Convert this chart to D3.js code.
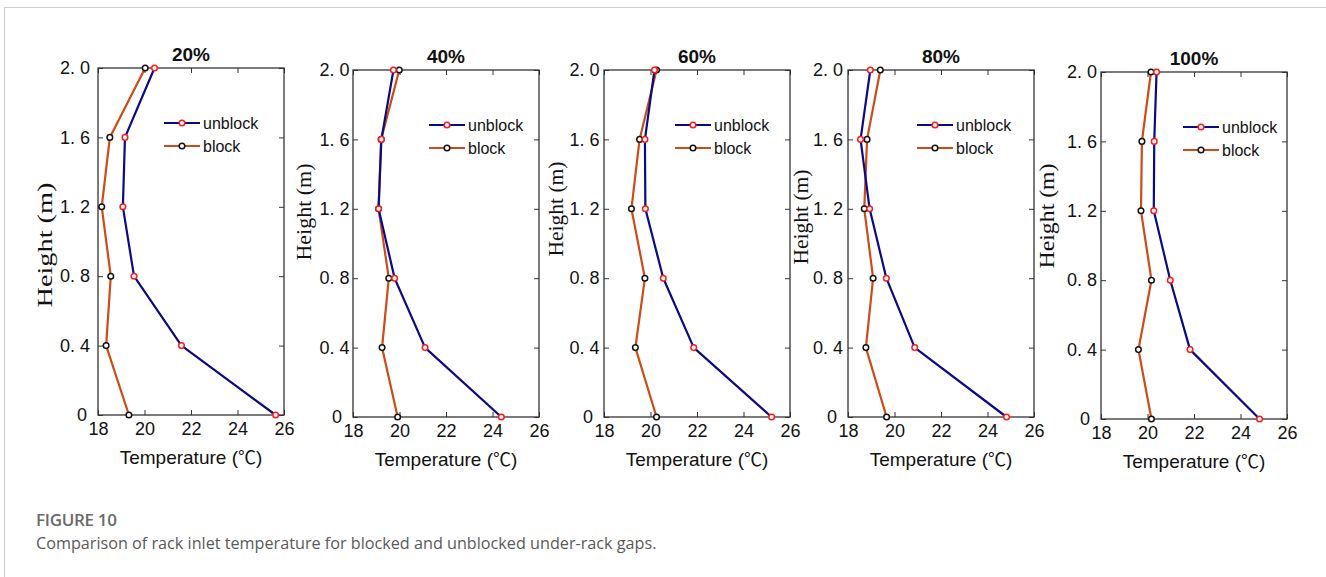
<!DOCTYPE html>
<html>
<head>
<meta charset="utf-8">
<script src="https://cdn.jsdelivr.net/npm/d3@7"></script>
<style>
  body { margin: 0; background: #fff; }
  svg { display: block; }
</style>
</head>
<body>
<script>
const W = 1326
const H = 577

// data
const panelTitles = ["20%", "40%", "60%", "80%", "100%"]
const heights = [0, 0.4, 0.8, 1.2, 1.6, 2.0]
const heightLabels = ["0", "0. 4", "0. 8", "1. 2", "1. 6", "2. 0"]
const tempTicks = [18, 20, 22, 24, 26]
const seriesNames = ["unblock", "block"]

// temperatures from h=0 up to h=2.0
const unblock20 = [25.64, 21.59, 19.55, 19.07, 19.16, 20.43]
const block20 = [19.33, 18.35, 18.55, 18.16, 18.51, 20.03]
const unblock40 = [24.38, 21.10, 19.79, 19.10, 19.22, 19.74]
const block40 = [19.92, 19.25, 19.54, 19.10, 19.21, 19.99]
const unblock60 = [25.21, 21.86, 20.55, 19.78, 19.76, 20.17]
const block60 = [20.26, 19.35, 19.76, 19.18, 19.53, 20.26]
const unblock80 = [24.82, 20.87, 19.65, 18.93, 18.54, 18.96]
const block80 = [19.66, 18.77, 19.08, 18.70, 18.82, 19.39]
const unblock100 = [24.82, 21.83, 20.98, 20.27, 20.29, 20.39]
const block100 = [20.17, 19.61, 20.17, 19.72, 19.76, 20.15]

const unblockSets = [unblock20, unblock40, unblock60, unblock80, unblock100]
const blockSets = [block20, block40, block60, block80, block100]

// layout (pixels), each panel was pasted in at a slightly different spot
const panelLeft = [98, 353, 604, 848, 1101]
const panelTop = [68, 70, 70, 70, 72]
const tickPad = [8, 3.5, 4.5, 5, 4]
const legendRight = [120, 110, 115, 117, 104]
const ylabX = [52, 311, 563, 808, 1054]
const ylabY = [245, 212, 209, 217, 216]
const ylabLen = [125, 97, 95, 95, 105]
const ylabSize = [22, 20, 20, 20, 21]
const pw = 186
const ph = 347

const lineColors = ["#0a0a86", "#cc4b16"]
const markColors = ["#ff1a1a", "#111"]
const tickFont = "Arial, 'Liberation Sans', sans-serif"

let svg = d3.select("body").append("svg")
    .attr("width", W)
    .attr("height", H)

// outer frame of the figure
svg.append("path")
    .attr("d", `M4.5,${H} V7.5 H${W}`)
    .attr("fill", "none")
    .attr("stroke", "#cfcfcf")
    .attr("stroke-width", 1.2)

panelTitles.forEach(function(title, p){
    let left = panelLeft[p]
    let top = panelTop[p]
    let x = d3.scaleLinear().domain([18, 26]).range([left, left + pw])
    let y = d3.scaleLinear().domain([0, 2]).range([top + ph, top])

    let g = svg.append("g")

    // box
    g.append("rect")
        .attr("x", left)
        .attr("y", top)
        .attr("width", pw)
        .attr("height", ph)
        .attr("fill", "none")
        .attr("stroke", "#333")
        .attr("stroke-width", 1.3)

    let yAxis = g.append("g")
        .attr("transform", `translate(${left},0)`)
        .call(d3.axisLeft(y).tickValues(heights).tickSize(-5).tickPadding(tickPad[p])
            .tickFormat(function(d, i){ return heightLabels[i] }))
    // keep the "0" clear of the "18" under the corner
    yAxis.selectAll(".tick text")
        .filter(function(d){ return d == 0 })
        .attr("x", -11)
    g.append("g")
        .attr("transform", `translate(0,${top + ph})`)
        .call(d3.axisBottom(x).tickValues(tempTicks).tickSize(-5).tickPadding(7))
    g.append("g")
        .attr("transform", `translate(${left + pw},0)`)
        .call(d3.axisRight(y).tickValues(heights).tickSize(-5).tickFormat(""))
    g.append("g")
        .attr("transform", `translate(0,${top})`)
        .call(d3.axisTop(x).tickValues(tempTicks).tickSize(-5).tickFormat(""))

    g.selectAll(".domain").remove()
    g.selectAll(".tick line").attr("stroke", "#333")
    g.selectAll(".tick text")
        .attr("font-family", tickFont)
        .attr("font-size", 18)
        .attr("fill", "#111")

    // title
    g.append("text")
        .attr("x", left + pw/2)
        .attr("y", top - 7)
        .attr("text-anchor", "middle")
        .attr("font-family", tickFont)
        .attr("font-weight", "bold")
        .attr("font-size", 19)
        .attr("fill", "#111")
        .text(title)

    let xl = g.append("text")
        .attr("x", left + pw/2)
        .attr("y", top + ph + 49)
        .attr("text-anchor", "middle")
        .attr("font-family", tickFont)
        .attr("font-size", 19)
        .attr("fill", "#111")
    xl.append("tspan").text("Temperature (")
    xl.append("tspan")
        .attr("font-family", "'Noto Sans CJK SC', sans-serif")
        .attr("font-size", 18)
        .text("℃")
    xl.append("tspan").text(")")

    g.append("text")
        .attr("transform", `translate(${ylabX[p]},${ylabY[p]}) rotate(-90)`)
        .attr("text-anchor", "middle")
        .attr("font-family", "'Liberation Serif', 'DejaVu Serif', serif")
        .attr("font-size", ylabSize[p])
        .attr("textLength", ylabLen[p])
        .attr("lengthAdjust", "spacingAndGlyphs")
        .attr("fill", "#111")
        .text("Height (m)")

    // lines, block drawn first so unblock sits on top
    let sets = [unblockSets[p], blockSets[p]]
    let line = d3.line()
        .x(function(d){ return x(d) })
        .y(function(d, i){ return y(heights[i]) })

    ;[1, 0].forEach(function(s){
        g.append("path")
            .datum(sets[s])
            .attr("d", line)
            .attr("fill", "none")
            .attr("stroke", lineColors[s])
            .attr("stroke-width", 2.2)
            .attr("stroke-linejoin", "round")
        g.selectAll(".m" + s)
            .data(sets[s])
            .enter()
            .append("circle")
            .attr("cx", function(d){ return x(d) })
            .attr("cy", function(d, i){ return y(heights[i]) })
            .attr("r", 2.8)
            .attr("fill", "#fff")
            .attr("stroke", markColors[s])
            .attr("stroke-width", 1.5)
    })

    // legend
    let lx = left + pw - legendRight[p]
    seriesNames.forEach(function(name, s){
        let ly = top + 55 + s*23
        g.append("line")
            .attr("x1", lx).attr("x2", lx + 36)
            .attr("y1", ly).attr("y2", ly)
            .attr("stroke", lineColors[s])
            .attr("stroke-width", 2.2)
        g.append("circle")
            .attr("cx", lx + 18).attr("cy", ly)
            .attr("r", 2.8)
            .attr("fill", "#fff")
            .attr("stroke", markColors[s])
            .attr("stroke-width", 1.5)
        g.append("text")
            .attr("x", lx + 39)
            .attr("y", ly)
            .attr("dy", "0.35em")
            .attr("font-family", tickFont)
            .attr("font-size", 16)
            .attr("fill", "#111")
            .text(name)
    })
})

// caption
svg.append("text")
    .attr("x", 36)
    .attr("y", 526)
    .attr("font-family", "'Open Sans', 'Noto Sans', sans-serif")
    .attr("font-weight", 600)
    .attr("font-size", 17)
    .attr("letter-spacing", -0.3)
    .attr("fill", "#6a6a6a")
    .text("FIGURE 10")

svg.append("text")
    .attr("x", 36)
    .attr("y", 549)
    .attr("font-family", "'Open Sans', 'Noto Sans', sans-serif")
    .attr("font-size", 16.2)
    .attr("fill", "#5a5a5a")
    .text("Comparison of rack inlet temperature for blocked and unblocked under-rack gaps.")
</script>
</body>
</html>
